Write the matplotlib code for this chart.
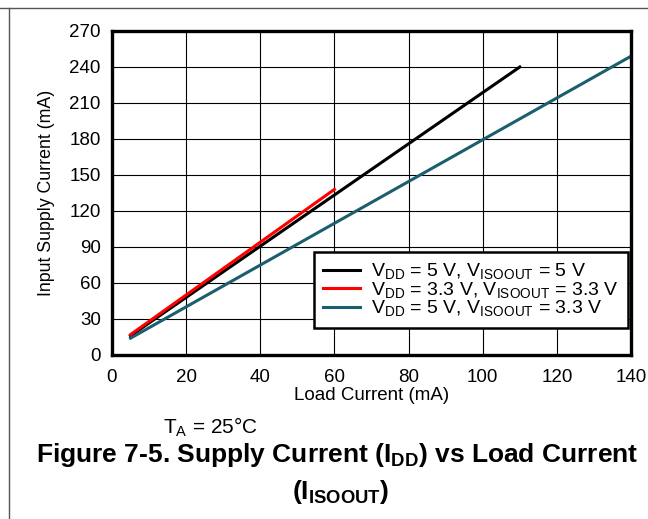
import matplotlib.pyplot as plt
from matplotlib.lines import Line2D

plt.rcParams['font.family'] = ['Liberation Sans', 'DejaVu Sans']
plt.rcParams['mathtext.fontset'] = 'custom'
plt.rcParams['mathtext.rm'] = 'Liberation Sans'
plt.rcParams['mathtext.it'] = 'Liberation Sans:italic'
plt.rcParams['mathtext.bf'] = 'Liberation Sans:bold'

# data
load_5_5 = [5, 110]
idd_5_5 = [16, 240]
load_33_33 = [5, 60]
idd_33_33 = [17, 138]
load_5_33 = [5, 140]
idd_5_33 = [14, 249]

labels = [r'V$_{\mathrm{DD}}$ = 5 V, V$_{\mathrm{ISOOUT}}$ = 5 V',
          r'V$_{\mathrm{DD}}$ = 3.3 V, V$_{\mathrm{ISOOUT}}$ = 3.3 V',
          r'V$_{\mathrm{DD}}$ = 5 V, V$_{\mathrm{ISOOUT}}$ = 3.3 V']

fig = plt.figure(figsize=(6.48, 5.19), dpi=100)
ax = fig.add_axes([0.1728, 0.316, 0.801, 0.6243])

ax.plot(load_5_5, idd_5_5, color='black', lw=2.2, label=labels[0])
ax.plot(load_33_33, idd_33_33, color='#ff0000', lw=2.2, label=labels[1])
ax.plot(load_5_33, idd_5_33, color='#1b5e6e', lw=2.2, label=labels[2])

ax.set_xlim(0, 140)
ax.set_ylim(0, 270)
ax.set_xticks(range(0, 141, 20))
ax.set_yticks(range(0, 271, 30))
ax.grid(True, color='black', lw=0.8)
ax.tick_params(length=0, labelsize=13.5)
ax.tick_params(axis='y', pad=8)
ax.tick_params(axis='x', pad=10)
for s in ax.spines.values():
    s.set_linewidth(2.4)

ax.set_xlabel('Load Current (mA)', fontsize=13.5, labelpad=1)
ax.set_ylabel('Input Supply Current (mA)', fontsize=12.8, labelpad=10)

leg = ax.legend(loc='lower right', bbox_to_anchor=(0.995, 0.083), borderaxespad=0,
                fontsize=14, fancybox=False, framealpha=1, edgecolor='black',
                handlelength=1.9, handletextpad=0.55, labelspacing=-0.08,
                borderpad=0.5)
leg.get_frame().set_linewidth(1.8)

fig.text(0.324, 0.177, r'T$_{\mathrm{A}}$ = 25°C', fontsize=15, ha='center', va='center')
fig.text(0.521, 0.123, r'Figure 7-5. Supply Current (I$_{\mathbf{DD}}$) vs Load Current',
         fontsize=19, fontweight='bold', ha='center', va='center')
fig.text(0.525, 0.052, r'(I$_{\mathbf{ISOOUT}}$)',
         fontsize=19, fontweight='bold', ha='center', va='center')

# page frame lines
fig.add_artist(Line2D([0, 1], [1 - 8 / 519, 1 - 8 / 519], color='#555555', lw=1))
fig.add_artist(Line2D([9 / 648, 9 / 648], [0, 1 - 8 / 519], color='#555555', lw=1))

fig.savefig('out.png', dpi=100)
